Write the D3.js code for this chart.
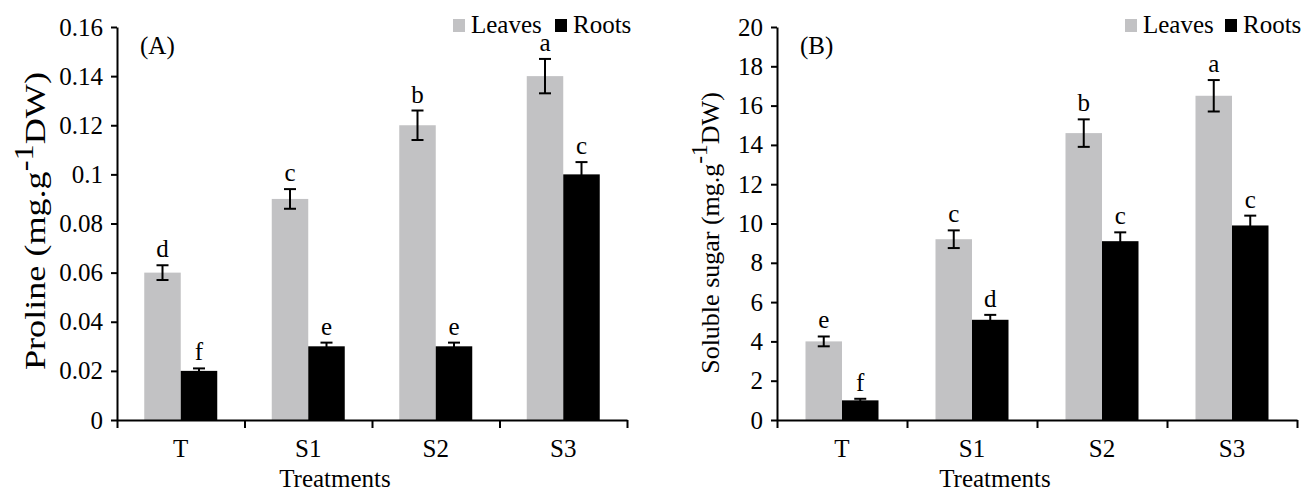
<!DOCTYPE html>
<html lang="en">
  <head>
    <meta charset="UTF-8" />
    <title>Proline and soluble sugar</title>
    <script src="https://cdnjs.cloudflare.com/ajax/libs/d3/7.8.5/d3.min.js"></script>
    <style>
      body { margin: 0; background: #fff; }
      svg text { font-family: "Liberation Serif", "Times New Roman", serif; fill: #000; }
    </style>
  </head>
  <body>
    <svg id="chart" width="1307" height="494"></svg>

    <script type="text/javascript">
      var categories = ["T", "S1", "S2", "S3"];
      var series = ["Leaves", "Roots"];

      // panel A - proline
      var prolineLeaves = [0.06, 0.09, 0.12, 0.14];
      var prolineLeavesErr = [0.003, 0.004, 0.006, 0.007];
      var prolineRoots = [0.02, 0.03, 0.03, 0.1];
      var prolineRootsErr = [0.001, 0.0015, 0.0015, 0.005];
      var prolineLeavesLetters = ["d", "c", "b", "a"];
      var prolineRootsLetters = ["f", "e", "e", "c"];
      var prolineTicks = [0, 0.02, 0.04, 0.06, 0.08, 0.1, 0.12, 0.14, 0.16];
      var prolineTickLabels = ["0", "0.02", "0.04", "0.06", "0.08", "0.1", "0.12", "0.14", "0.16"];

      // panel B - soluble sugar
      var sugarLeaves = [4, 9.2, 14.6, 16.5];
      var sugarLeavesErr = [0.25, 0.45, 0.7, 0.8];
      var sugarRoots = [1, 5.1, 9.1, 9.9];
      var sugarRootsErr = [0.08, 0.25, 0.45, 0.5];
      var sugarLeavesLetters = ["e", "c", "b", "a"];
      var sugarRootsLetters = ["f", "d", "c", "c"];
      var sugarTicks = [0, 2, 4, 6, 8, 10, 12, 14, 16, 18, 20];
      var sugarTickLabels = ["0", "2", "4", "6", "8", "10", "12", "14", "16", "18", "20"];

      var colors = { Leaves: "#c2c2c4", Roots: "#000000" };
      var FONT = '"Liberation Serif", "Times New Roman", serif';
      var svg = d3.select("#chart");

      function drawPanel(p) {
        var g = svg.append("g").attr("transform", "translate(" + p.x + ",0)");
        var w = p.width, top = 27, bottom = 420;

        var y = d3.scaleLinear().domain([0, p.max]).range([bottom, top]);
        var x = d3.scaleBand().domain(categories).range([0, w]);
        var inner = d3.scaleBand().domain(series).range([0, 73]);

        var rows = categories.map(function (c, i) {
          return [
            { cat: c, s: "Leaves", v: p.leaves[i], e: p.leavesErr[i], l: p.leavesLetters[i] },
            { cat: c, s: "Roots", v: p.roots[i], e: p.rootsErr[i], l: p.rootsLetters[i] }
          ];
        }).flat();

        function bx(d) { return x(d.cat) + x.bandwidth() / 2 - 36.5 + inner(d.s); }

        g.selectAll("rect.bar").data(rows).enter().append("rect")
          .attr("class", "bar")
          .attr("x", bx)
          .attr("y", function (d) { return y(d.v); })
          .attr("width", inner.bandwidth())
          .attr("height", function (d) { return bottom - y(d.v); })
          .attr("fill", function (d) { return colors[d.s]; });

        // error bars
        var eb = g.selectAll("g.err").data(rows).enter().append("g")
          .attr("class", "err")
          .attr("transform", function (d) { return "translate(" + (bx(d) + inner.bandwidth() / 2) + ",0)"; })
          .attr("stroke", "#000").attr("stroke-width", 2);
        eb.append("line").attr("x1", 0).attr("x2", 0)
          .attr("y1", function (d) { return y(d.v + d.e); })
          .attr("y2", function (d) { return y(d.v - d.e); });
        eb.append("line").attr("x1", -6).attr("x2", 6)
          .attr("y1", function (d) { return y(d.v + d.e); })
          .attr("y2", function (d) { return y(d.v + d.e); });
        eb.append("line").attr("x1", -6).attr("x2", 6)
          .attr("y1", function (d) { return y(d.v - d.e); })
          .attr("y2", function (d) { return y(d.v - d.e); });

        g.selectAll("text.letter").data(rows).enter().append("text")
          .attr("class", "letter")
          .attr("x", function (d) { return bx(d) + inner.bandwidth() / 2; })
          .attr("y", function (d) { return y(d.v + d.e) - 8; })
          .attr("text-anchor", "middle")
          .style("font-size", "25px")
          .text(function (d) { return d.l; });

        // y axis
        var yAxis = g.append("g")
          .call(d3.axisLeft(y).tickValues(p.ticks).tickSize(6).tickSizeOuter(0)
            .tickFormat(function (d, i) { return p.tickLabels[i]; }));
        yAxis.attr("font-family", FONT);
        yAxis.select(".domain").attr("stroke-width", 2);
        yAxis.selectAll(".tick line").attr("stroke-width", 2);
        yAxis.selectAll(".tick text").attr("x", -14).style("font-family", FONT).style("font-size", "25px");

        // x axis: category boundary ticks + labels
        var xb = d3.scaleLinear().domain([0, categories.length]).range([0, w]);
        var xAxis = g.append("g").attr("transform", "translate(0," + bottom + ")")
          .call(d3.axisBottom(xb).ticks(categories.length).tickSize(8).tickSizeOuter(0).tickFormat(""));
        xAxis.select(".domain").attr("stroke-width", 2);
        xAxis.selectAll(".tick line").attr("stroke-width", 2);

        g.append("g").attr("transform", "translate(0," + bottom + ")")
          .attr("font-family", FONT)
          .call(d3.axisBottom(x).tickSize(0))
          .call(function (a) { a.select(".domain").remove(); })
          .selectAll("text").attr("y", 19).style("font-family", FONT).style("font-size", "25px");

        g.append("text")
          .attr("x", p.xTitleX).attr("y", 487)
          .attr("text-anchor", "middle")
          .style("font-size", "25px")
          .text("Treatments");

        // y title
        var yt = g.append("text")
          .attr("transform", "translate(" + p.yTitleX + "," + p.yTitleY + ") rotate(-90)")
          .attr("text-anchor", "middle")
          .style("font-size", p.yTitleSize + "px");
        if (p.yTitleLen) yt.attr("textLength", p.yTitleLen).attr("lengthAdjust", "spacingAndGlyphs");
        yt.append("tspan").text(p.yTitle + " (mg.g");
        yt.append("tspan").attr("dy", -12).style("font-size", "0.9em").text("-1");
        yt.append("tspan").attr("dy", 12).text("DW)");

        g.append("text").attr("x", 23).attr("y", 54).style("font-size", "25px").text(p.tag);

        // legend
        var lg = g.append("g").attr("transform", "translate(" + p.legendX + ",0)");
        series.forEach(function (s, i) {
          var ox = i * p.legendStep;
          lg.append("rect").attr("x", ox).attr("y", 19).attr("width", 12).attr("height", 13)
            .attr("fill", colors[s]);
          lg.append("text").attr("x", ox + 18).attr("y", 33).style("font-size", "25px").text(s);
        });
      }

      drawPanel({
        x: 117, width: 510, max: 0.16,
        leaves: prolineLeaves, leavesErr: prolineLeavesErr, leavesLetters: prolineLeavesLetters,
        roots: prolineRoots, rootsErr: prolineRootsErr, rootsLetters: prolineRootsLetters,
        ticks: prolineTicks, tickLabels: prolineTickLabels,
        yTitle: "Proline", yTitleX: -72, yTitleY: 221, yTitleSize: 30, yTitleLen: 298,
        tag: "(A)", legendX: 336, legendStep: 102, xTitleX: 218
      });

      drawPanel({
        x: 777, width: 520, max: 20,
        leaves: sugarLeaves, leavesErr: sugarLeavesErr, leavesLetters: sugarLeavesLetters,
        roots: sugarRoots, rootsErr: sugarRootsErr, rootsLetters: sugarRootsLetters,
        ticks: sugarTicks, tickLabels: sugarTickLabels,
        yTitle: "Soluble sugar", yTitleX: -58, yTitleY: 233, yTitleSize: 26, yTitleLen: 0,
        tag: "(B)", legendX: 348, legendStep: 100, xTitleX: 218
      });
    </script>
  </body>
</html>
